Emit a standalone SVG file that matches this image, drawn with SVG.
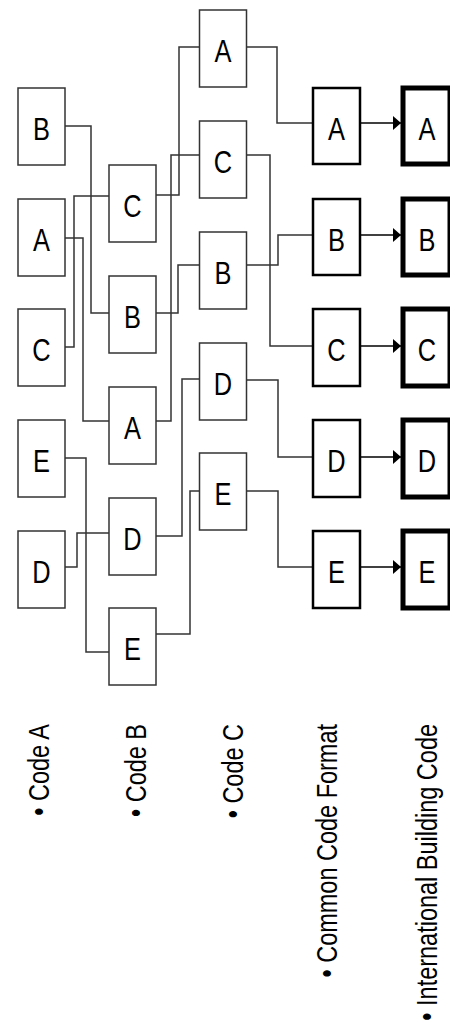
<svg xmlns="http://www.w3.org/2000/svg" width="450" height="1031" viewBox="0 0 450 1031">
<style>
.n1{fill:#fff;stroke:#333;stroke-width:1.5}
.n4{fill:#fff;stroke:#000;stroke-width:2.5}
.n5{fill:#fff;stroke:#000;stroke-width:5}
.lt{font-family:"Liberation Sans",Arial,sans-serif;font-size:31px;fill:#000;text-anchor:middle}
.lab{font-family:"Liberation Sans",Arial,sans-serif;font-size:29px;fill:#000;text-anchor:end}
.c{fill:none;stroke:#333;stroke-width:1.5}
.a{fill:none;stroke:#000;stroke-width:1.5}
</style>
<defs>
<marker id="ah" markerUnits="userSpaceOnUse" markerWidth="8" markerHeight="14" refX="8" refY="7" orient="auto">
<path d="M0,0 L8,7 L0,14 z" fill="#000"/>
</marker>
</defs>
<g id="connectors">
<path class="c" d="M65,126 H91 V313 H109"/>
<path class="c" d="M65,238 H83 V421 H109"/>
<path class="c" d="M65,347 H74 V196 H109"/>
<path class="c" d="M65,458 H86 V652 H109"/>
<path class="c" d="M65,567 H77 V533 H109"/>
<path class="c" d="M156,195 H179 V47 H199.5"/>
<path class="c" d="M156,421 H171 V155 H199.5"/>
<path class="c" d="M156,313 H178 V265 H199.5"/>
<path class="c" d="M156,536 H182 V379 H199.5"/>
<path class="c" d="M156,634 H190 V491 H199.5"/>
<path class="c" d="M246.5,47 H277 V123 H313"/>
<path class="c" d="M246.5,155 H270 V346 H313"/>
<path class="c" d="M246.5,265 H278 V235 H313"/>
<path class="c" d="M246.5,380 H278 V457 H313"/>
<path class="c" d="M246.5,491 H278 V567 H313"/>
<path class="a" d="M360,123 H401" marker-end="url(#ah)"/>
<path class="a" d="M360,235 H401" marker-end="url(#ah)"/>
<path class="a" d="M360,346 H401" marker-end="url(#ah)"/>
<path class="a" d="M360,457 H401" marker-end="url(#ah)"/>
<path class="a" d="M360,567 H401" marker-end="url(#ah)"/>
</g>
<g id="a-B"><rect class="n1" x="18" y="88" width="47" height="77"/><text class="lt" transform="translate(41.5,140) scale(0.82,1)">B</text></g>
<g id="a-A"><rect class="n1" x="18" y="199" width="47" height="77"/><text class="lt" transform="translate(41.5,251) scale(0.82,1)">A</text></g>
<g id="a-C"><rect class="n1" x="18" y="309" width="47" height="77"/><text class="lt" transform="translate(41.5,361) scale(0.82,1)">C</text></g>
<g id="a-E"><rect class="n1" x="18" y="420" width="47" height="77"/><text class="lt" transform="translate(41.5,472) scale(0.82,1)">E</text></g>
<g id="a-D"><rect class="n1" x="18" y="531" width="47" height="77"/><text class="lt" transform="translate(41.5,583) scale(0.82,1)">D</text></g>
<g id="b-C"><rect class="n1" x="109" y="165" width="47" height="77"/><text class="lt" transform="translate(132.5,217) scale(0.82,1)">C</text></g>
<g id="b-B"><rect class="n1" x="109" y="276" width="47" height="77"/><text class="lt" transform="translate(132.5,328) scale(0.82,1)">B</text></g>
<g id="b-A"><rect class="n1" x="109" y="387" width="47" height="77"/><text class="lt" transform="translate(132.5,439) scale(0.82,1)">A</text></g>
<g id="b-D"><rect class="n1" x="109" y="498" width="47" height="77"/><text class="lt" transform="translate(132.5,550) scale(0.82,1)">D</text></g>
<g id="b-E"><rect class="n1" x="109" y="608" width="47" height="77"/><text class="lt" transform="translate(132.5,660) scale(0.82,1)">E</text></g>
<g id="c-A"><rect class="n1" x="199.5" y="10" width="47" height="77"/><text class="lt" transform="translate(223,62) scale(0.82,1)">A</text></g>
<g id="c-C"><rect class="n1" x="199.5" y="121" width="47" height="77"/><text class="lt" transform="translate(223,173) scale(0.82,1)">C</text></g>
<g id="c-B"><rect class="n1" x="199.5" y="232" width="47" height="77"/><text class="lt" transform="translate(223,284) scale(0.82,1)">B</text></g>
<g id="c-D"><rect class="n1" x="199.5" y="343" width="47" height="77"/><text class="lt" transform="translate(223,395) scale(0.82,1)">D</text></g>
<g id="c-E"><rect class="n1" x="199.5" y="453" width="47" height="77"/><text class="lt" transform="translate(223,505) scale(0.82,1)">E</text></g>
<g id="f-A"><rect class="n4" x="313" y="88" width="47" height="76"/><text class="lt" transform="translate(336.5,140) scale(0.82,1)">A</text></g>
<g id="f-B"><rect class="n4" x="313" y="199" width="47" height="76"/><text class="lt" transform="translate(336.5,251) scale(0.82,1)">B</text></g>
<g id="f-C"><rect class="n4" x="313" y="309" width="47" height="77"/><text class="lt" transform="translate(336.5,361) scale(0.82,1)">C</text></g>
<g id="f-D"><rect class="n4" x="313" y="420" width="47" height="77"/><text class="lt" transform="translate(336.5,472) scale(0.82,1)">D</text></g>
<g id="f-E"><rect class="n4" x="313" y="531" width="47" height="77"/><text class="lt" transform="translate(336.5,583) scale(0.82,1)">E</text></g>
<g id="i-A"><rect class="n5" x="403" y="88" width="47" height="76"/><text class="lt" transform="translate(427,140) scale(0.82,1)">A</text></g>
<g id="i-B"><rect class="n5" x="403" y="199" width="47" height="76"/><text class="lt" transform="translate(427,251) scale(0.82,1)">B</text></g>
<g id="i-C"><rect class="n5" x="403" y="309" width="47" height="77"/><text class="lt" transform="translate(427,361) scale(0.82,1)">C</text></g>
<g id="i-D"><rect class="n5" x="403" y="420" width="47" height="77"/><text class="lt" transform="translate(427,472) scale(0.82,1)">D</text></g>
<g id="i-E"><rect class="n5" x="403" y="531" width="47" height="77"/><text class="lt" transform="translate(427,583) scale(0.82,1)">E</text></g>
<g id="labels">
<text class="lab" transform="translate(49,724) rotate(-90) scale(0.81,1)">• Code A</text>
<text class="lab" transform="translate(146,724) rotate(-90) scale(0.81,1)">• Code B</text>
<text class="lab" transform="translate(243,724) rotate(-90) scale(0.81,1)">• Code C</text>
<text class="lab" transform="translate(337,724) rotate(-90) scale(0.81,1)">• Common Code Format</text>
<text class="lab" transform="translate(437,724) rotate(-90) scale(0.81,1)">• International Building Code</text>
</g>
</svg>
